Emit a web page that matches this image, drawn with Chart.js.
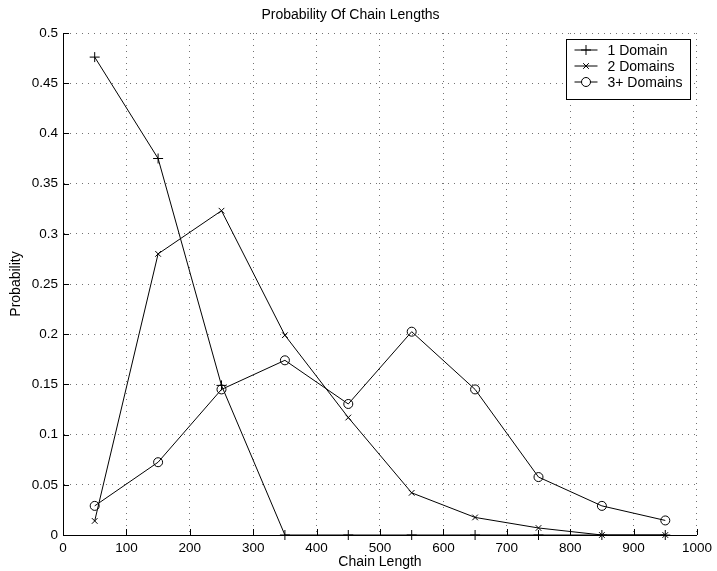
<!DOCTYPE html>
<html>
<head>
<meta charset="utf-8">
<script src="https://cdn.jsdelivr.net/npm/chart.js@4/dist/chart.umd.min.js"></script>
<style>
  html, body { margin: 0; padding: 0; background: #fff; }
  #wrap { width: 717px; height: 571px; }
</style>
</head>
<body>
<div id="wrap"><canvas id="chart"></canvas></div>
<script>
// data
const chainLength = [50, 150, 250, 350, 450, 550, 650, 750, 850, 950];
const oneDomain   = [0.476, 0.375, 0.149, 0, 0, 0, 0, 0, 0, 0];
const twoDomains  = [0.014, 0.280, 0.323, 0.199, 0.117, 0.042, 0.0175, 0.007, 0, 0];
const threeDomains = [0.029, 0.0725, 0.145, 0.174, 0.1305, 0.2025, 0.145, 0.0577, 0.029, 0.0145];

const seriesNames = ['1 Domain', '2 Domains', '3+ Domains'];
const xTicks = [0, 100, 200, 300, 400, 500, 600, 700, 800, 900, 1000];
const xTickLabels = ['0', '100', '200', '300', '400', '500', '600', '700', '800', '900', '1000'];
const yTicks = [0, 0.05, 0.1, 0.15, 0.2, 0.25, 0.3, 0.35, 0.4, 0.45, 0.5];
const yTickLabels = ['0', '0.05', '0.1', '0.15', '0.2', '0.25', '0.3', '0.35', '0.4', '0.45', '0.5'];

const FONT = 'Liberation Sans, Arial, Helvetica, sans-serif';

function toPoints(ys) {
  return ys.map((y, i) => ({ x: chainLength[i], y: y }));
}

function lineSet(label, ys, style, radius) {
  return {
    label: label,
    data: toPoints(ys),
    borderColor: '#000',
    borderWidth: 1,
    tension: 0,
    pointStyle: style,
    pointRadius: radius,
    pointHoverRadius: radius,
    pointBorderColor: '#000',
    pointBackgroundColor: 'rgba(0,0,0,0)',
    pointBorderWidth: 1,
    clip: false
  };
}

// matlab-like inward ticks + boxed legend
const matlabBits = {
  id: 'matlabBits',
  afterDraw(chart) {
    const ctx = chart.ctx;
    const area = chart.chartArea;
    const xs = chart.scales.x, ys = chart.scales.y;
    ctx.save();
    ctx.strokeStyle = '#000';
    ctx.lineWidth = 1;
    ctx.beginPath();
    xs.ticks.forEach(t => {
      const px = Math.round(xs.getPixelForValue(t.value)) + 0.5;
      ctx.moveTo(px, area.bottom);
      ctx.lineTo(px, area.bottom - 6);
    });
    ys.ticks.forEach(t => {
      const py = Math.round(ys.getPixelForValue(t.value)) + 0.5;
      ctx.moveTo(area.left, py);
      ctx.lineTo(area.left + 6, py);
    });
    ctx.stroke();

    // legend box
    const bw = 124, bh = 60;
    const bx = Math.round(area.right - 7 - bw) + 0.5;
    const by = Math.round(area.top + 6) + 0.5;
    ctx.fillStyle = '#fff';
    ctx.fillRect(bx, by, bw, bh);
    ctx.strokeRect(bx, by, bw, bh);
    ctx.font = '14px ' + FONT;
    ctx.textBaseline = 'middle';
    ctx.textAlign = 'left';
    chart.data.datasets.forEach((ds, i) => {
      const cy = by + 10.5 + i * 16;
      const x1 = bx + 8, x2 = bx + 31, cx = (x1 + x2) / 2;
      ctx.strokeStyle = '#000';
      ctx.lineWidth = 1;
      ctx.beginPath();
      ctx.moveTo(x1, cy);
      ctx.lineTo(x2, cy);
      ctx.stroke();
      ctx.fillStyle = '#fff';
      Chart.helpers.drawPoint(ctx, {
        pointStyle: ds.pointStyle,
        radius: ds.pointRadius,
        borderWidth: 1,
        rotation: 0
      }, cx, cy);
      ctx.fillStyle = '#000';
      ctx.fillText(ds.label, bx + 41, cy + 1);
    });
    ctx.restore();
  }
};

new Chart(document.getElementById('chart'), {
  type: 'line',
  data: {
    datasets: [
      lineSet(seriesNames[0], oneDomain, 'cross', 5),
      lineSet(seriesNames[1], twoDomains, 'crossRot', 4),
      lineSet(seriesNames[2], threeDomains, 'circle', 4.5)
    ]
  },
  options: {
    responsive: true,
    maintainAspectRatio: false,
    animation: false,
    layout: { padding: { left: 0, right: 16, top: 0, bottom: 0 } },
    plugins: {
      legend: { display: false },
      tooltip: { enabled: false },
      title: {
        display: true,
        text: 'Probability Of Chain Lengths',
        color: '#000',
        font: { family: FONT, size: 14, weight: 'normal' },
        padding: { top: 6.6, bottom: 9.6 }
      }
    },
    scales: {
      x: {
        type: 'linear',
        min: 0,
        max: 1000,
        afterBuildTicks(scale) { scale.ticks = xTicks.map(v => ({ value: v })); },
        afterFit(scale) { scale.height = 36; },
        ticks: {
          color: '#000',
          padding: 5,
          maxRotation: 0,
          autoSkip: false,
          font: { family: FONT, size: 13.5 },
          callback: (v, i) => xTickLabels[i]
        },
        grid: { color: 'rgba(0,0,0,0.55)', lineWidth: 1, drawTicks: false },
        border: { display: true, color: '#000', width: 1, dash: [1, 5] },
        title: {
          display: true,
          text: 'Chain Length',
          color: '#000',
          font: { family: FONT, size: 14 },
          padding: { top: 0, bottom: 0 }
        }
      },
      y: {
        type: 'linear',
        min: 0,
        max: 0.5,
        afterBuildTicks(scale) { scale.ticks = yTicks.map(v => ({ value: v })); },
        afterFit(scale) { scale.width = 63; },
        ticks: {
          color: '#000',
          padding: 5,
          autoSkip: false,
          font: { family: FONT, size: 13.5 },
          callback: (v, i) => yTickLabels[i]
        },
        grid: { color: 'rgba(0,0,0,0.55)', lineWidth: 1, drawTicks: false },
        border: { display: true, color: '#000', width: 1, dash: [1, 5] },
        title: {
          display: true,
          text: 'Probability',
          color: '#000',
          font: { family: FONT, size: 14 },
          padding: { top: 8, bottom: 0 }
        }
      }
    }
  },
  plugins: [matlabBits]
});
</script>
</body>
</html>
